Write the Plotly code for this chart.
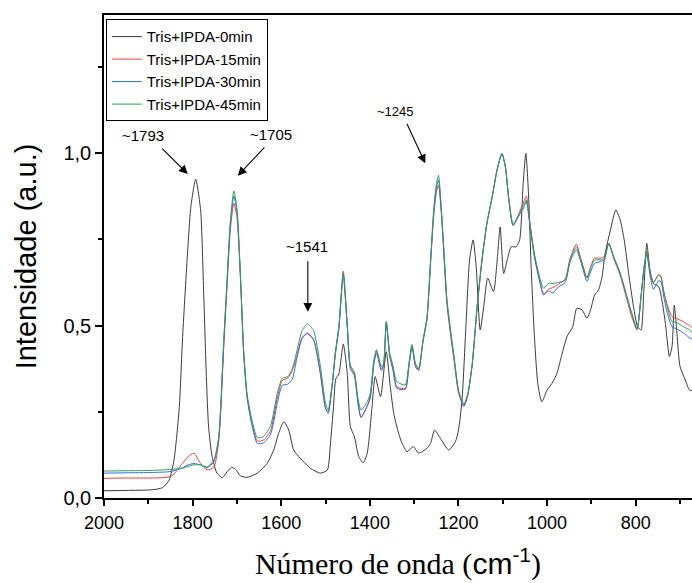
import plotly.graph_objects as go

# ---- FTIR spectra: wavenumber (cm-1) and normalised intensity ----
wn_0min = [2000, 1950, 1890, 1868, 1853, 1842, 1830, 1823, 1812, 1804, 1793, 1782, 1775,
           1769, 1764, 1756, 1745, 1733, 1722, 1712, 1703, 1692, 1677, 1654, 1632, 1617,
           1606, 1594, 1583, 1572, 1557, 1534, 1512, 1496, 1489, 1482, 1477, 1470, 1460,
           1451, 1444, 1435, 1425, 1415, 1406, 1395, 1388, 1376, 1363, 1354, 1346, 1335,
           1327, 1316, 1302, 1290, 1271, 1263, 1254, 1241, 1222, 1207, 1200, 1192, 1184,
           1175, 1167, 1160, 1151, 1143, 1134, 1121, 1112, 1106, 1098, 1090, 1081, 1070,
           1062, 1054, 1048, 1042, 1036, 1029, 1021, 1012, 1000, 989, 978, 966, 955, 942,
           933, 921, 910, 902, 893, 884, 876, 869, 857, 845, 835, 826, 816, 805, 796, 788,
           782, 775, 767, 760, 748, 741, 733, 724, 718, 713, 707, 700, 688, 679, 672]
int_0min = [0.021, 0.022, 0.024, 0.030, 0.052, 0.110, 0.265, 0.458, 0.700, 0.844, 0.924,
            0.835, 0.593, 0.352, 0.207, 0.120, 0.072, 0.059, 0.076, 0.089, 0.083, 0.064,
            0.060, 0.072, 0.100, 0.139, 0.187, 0.221, 0.197, 0.139, 0.115, 0.086, 0.072,
            0.081, 0.158, 0.265, 0.345, 0.360, 0.446, 0.361, 0.207, 0.178, 0.120, 0.102,
            0.130, 0.265, 0.352, 0.294, 0.424, 0.323, 0.245, 0.187, 0.158, 0.134, 0.149,
            0.130, 0.144, 0.158, 0.197, 0.173, 0.139, 0.163, 0.197, 0.284, 0.477, 0.690,
            0.748, 0.670, 0.487, 0.555, 0.637, 0.598, 0.700, 0.786, 0.651, 0.690, 0.728,
            0.728, 0.748, 0.912, 0.999, 0.883, 0.670, 0.477, 0.332, 0.279, 0.313, 0.332,
            0.361, 0.419, 0.468, 0.497, 0.550, 0.545, 0.521, 0.545, 0.588, 0.603, 0.641,
            0.709, 0.777, 0.835, 0.806, 0.748, 0.651, 0.555, 0.497, 0.487, 0.593, 0.738,
            0.651, 0.622, 0.612, 0.574, 0.506, 0.410, 0.440, 0.559, 0.477, 0.381, 0.342,
            0.313, 0.310]

wn_ipda = [2000, 1950, 1890, 1848, 1823, 1810, 1797, 1782, 1767, 1752, 1741, 1730, 1722,
           1715, 1707, 1700, 1692, 1685, 1677, 1666, 1654, 1640, 1624, 1609, 1598, 1585,
           1575, 1564, 1553, 1541, 1527, 1512, 1500, 1494, 1485, 1478, 1470, 1460, 1451,
           1444, 1435, 1427, 1420, 1406, 1399, 1391, 1385, 1374, 1369, 1363, 1355, 1348,
           1339, 1320, 1312, 1305, 1297, 1290, 1280, 1271, 1263, 1256, 1250, 1245, 1239,
           1233, 1226, 1217, 1209, 1200, 1188, 1179, 1169, 1158, 1147, 1136, 1124, 1113,
           1102, 1094, 1087, 1077, 1068, 1057, 1053, 1047, 1038, 1029, 1019, 1008, 997, 987,
           974, 959, 948, 934, 924, 910, 902, 893, 880, 871, 861, 850, 835, 820, 809, 797,
           788, 781, 775, 767, 760, 748, 743, 737, 729, 718, 707, 692, 679, 672]
int_15min = [0.057, 0.058, 0.058, 0.063, 0.100, 0.120, 0.130, 0.100, 0.081, 0.090, 0.165,
             0.430, 0.620, 0.775, 0.854, 0.815, 0.635, 0.425, 0.295, 0.215, 0.165, 0.168,
             0.195, 0.290, 0.340, 0.348, 0.370, 0.415, 0.465, 0.476, 0.458, 0.362, 0.260,
             0.250, 0.330, 0.420, 0.495, 0.658, 0.500, 0.380, 0.360, 0.280, 0.233, 0.268,
             0.295, 0.390, 0.425, 0.372, 0.385, 0.510, 0.410, 0.375, 0.322, 0.318, 0.383,
             0.440, 0.385, 0.372, 0.455, 0.520, 0.680, 0.815, 0.885, 0.907, 0.830, 0.705,
             0.560, 0.465, 0.390, 0.305, 0.265, 0.298, 0.385, 0.550, 0.688, 0.794, 0.872,
             0.950, 0.998, 0.958, 0.872, 0.790, 0.812, 0.845, 0.858, 0.875, 0.790, 0.708,
             0.645, 0.588, 0.605, 0.610, 0.620, 0.635, 0.695, 0.735, 0.695, 0.640, 0.670,
             0.695, 0.695, 0.700, 0.738, 0.695, 0.645, 0.575, 0.525, 0.487, 0.584, 0.670,
             0.714, 0.655, 0.625, 0.648, 0.642, 0.600, 0.560, 0.526, 0.520, 0.511, 0.500,
             0.494]
int_30min = [0.072, 0.073, 0.074, 0.077, 0.088, 0.096, 0.100, 0.096, 0.088, 0.105, 0.175,
             0.445, 0.635, 0.790, 0.875, 0.830, 0.640, 0.425, 0.290, 0.210, 0.158, 0.160,
             0.185, 0.274, 0.326, 0.330, 0.345, 0.410, 0.462, 0.478, 0.460, 0.365, 0.260,
             0.245, 0.325, 0.415, 0.490, 0.645, 0.495, 0.375, 0.355, 0.275, 0.235, 0.265,
             0.290, 0.390, 0.420, 0.370, 0.385, 0.505, 0.410, 0.372, 0.318, 0.315, 0.380,
             0.438, 0.380, 0.370, 0.455, 0.520, 0.685, 0.825, 0.898, 0.922, 0.838, 0.715,
             0.570, 0.472, 0.395, 0.310, 0.268, 0.300, 0.388, 0.553, 0.690, 0.795, 0.872,
             0.950, 0.998, 0.958, 0.872, 0.790, 0.808, 0.833, 0.840, 0.860, 0.782, 0.700,
             0.640, 0.592, 0.600, 0.595, 0.612, 0.625, 0.685, 0.719, 0.685, 0.628, 0.655,
             0.680, 0.685, 0.690, 0.738, 0.700, 0.651, 0.584, 0.535, 0.490, 0.584, 0.670,
             0.705, 0.640, 0.605, 0.630, 0.627, 0.585, 0.538, 0.496, 0.490, 0.478, 0.465,
             0.460]
int_45min = [0.078, 0.079, 0.080, 0.083, 0.086, 0.092, 0.096, 0.096, 0.090, 0.110, 0.178,
             0.448, 0.640, 0.800, 0.890, 0.840, 0.645, 0.430, 0.300, 0.226, 0.175, 0.178,
             0.210, 0.303, 0.346, 0.352, 0.375, 0.430, 0.485, 0.505, 0.485, 0.385, 0.275,
             0.255, 0.330, 0.420, 0.497, 0.652, 0.500, 0.385, 0.365, 0.290, 0.255, 0.279,
             0.304, 0.400, 0.430, 0.380, 0.390, 0.512, 0.420, 0.385, 0.337, 0.328, 0.390,
             0.445, 0.390, 0.376, 0.458, 0.526, 0.690, 0.835, 0.910, 0.935, 0.845, 0.720,
             0.575, 0.478, 0.400, 0.313, 0.272, 0.303, 0.390, 0.555, 0.690, 0.796, 0.873,
             0.951, 0.999, 0.960, 0.873, 0.793, 0.810, 0.838, 0.848, 0.864, 0.786, 0.709,
             0.651, 0.608, 0.622, 0.622, 0.625, 0.632, 0.690, 0.727, 0.690, 0.637, 0.665,
             0.690, 0.690, 0.695, 0.738, 0.700, 0.651, 0.584, 0.535, 0.490, 0.584, 0.670,
             0.714, 0.651, 0.625, 0.646, 0.640, 0.600, 0.555, 0.511, 0.508, 0.496, 0.488,
             0.478]

series_names = ["Tris+IPDA-0min", "Tris+IPDA-15min", "Tris+IPDA-30min", "Tris+IPDA-45min"]
series_colors = ["#3a3a3a", "#f03c3c", "#2a6ee6", "#2e9e5a"]

y_tick_vals = [0.0, 0.5, 1.0]
y_tick_text = ["0,0", "0,5", "1,0"]
x_tick_vals = [2000, 1800, 1600, 1400, 1200, 1000, 800]

# band labels: (text, x, y, font size) and arrows: (tip x, tip y, dx, dy)
band_labels = [("~1793", 1912, 1.052, 15), ("~1705", 1624, 1.055, 15),
               ("~1541", 1542, 0.728, 15), ("~1245", 1342, 1.120, 13)]
band_arrows = [(1811, 0.939, -27, -27), (1698, 0.934, 28, -30),
               (1540, 0.540, 0, -52), (1275, 0.970, -19, -41)]

SANS = "Liberation Sans, Arial, sans-serif"
SERIF = "Liberation Serif, Times New Roman, serif"

fig = go.Figure()
spectra = [(wn_0min, int_0min), (wn_ipda, int_15min), (wn_ipda, int_30min), (wn_ipda, int_45min)]
for (xs, ys), name, color in zip(spectra, series_names, series_colors):
    fig.add_trace(go.Scatter(x=xs, y=ys, mode="lines", name=name,
                             line=dict(color=color, width=1, shape="spline", smoothing=0.6)))

for text, x, y, size in band_labels:
    fig.add_annotation(x=x, y=y, xref="x", yref="y", text=text, showarrow=False,
                       font=dict(family=SANS, size=size, color="black"))
for x, y, dx, dy in band_arrows:
    fig.add_annotation(x=x, y=y, xref="x", yref="y", text="", showarrow=True,
                       ax=dx, ay=dy, arrowhead=2, arrowsize=1.6, arrowwidth=1.1,
                       arrowcolor="black")

fig.update_layout(
    width=692, height=583,
    margin=dict(l=104, r=0, t=15, b=85),
    paper_bgcolor="white", plot_bgcolor="white",
    font=dict(family=SANS, color="black"),
    showlegend=True,
    legend=dict(x=0.003, y=0.991, xanchor="left", yanchor="top",
                bgcolor="white", bordercolor="black", borderwidth=1,
                font=dict(family=SANS, size=15, color="black"),
                tracegroupgap=0, itemwidth=30),
    xaxis=dict(range=[2000, 673], showgrid=False, zeroline=False,
               showline=True, linecolor="black", linewidth=1.5, mirror=True,
               ticks="outside", ticklen=6, tickwidth=1.5, tickcolor="black",
               tickvals=x_tick_vals, tickfont=dict(family=SANS, size=18),
               ticklabelstandoff=2,
               minor=dict(ticks="outside", ticklen=4, tickwidth=1.5, tickcolor="black", dtick=100),
               title=dict(text="Número de onda (<span style='font-family:Liberation Sans, Arial'>cm<sup>-1</sup></span>)",
                          font=dict(family=SERIF, size=30),
                          standoff=21)),
    yaxis=dict(range=[0, 1.4], showgrid=False, zeroline=False,
               showline=True, linecolor="black", linewidth=1.5,
               ticks="outside", ticklen=7, tickwidth=1.5, tickcolor="black",
               tickvals=y_tick_vals, ticktext=y_tick_text, tickfont=dict(family=SANS, size=20),
               minor=dict(ticks="outside", ticklen=4, tickwidth=1.5, tickcolor="black",
                          tickvals=[0.25, 0.75, 1.25]),
               title=dict(text="Intensidade (a.u.)", font=dict(family=SANS, size=29), standoff=18)),
)

fig.write_html("out.html")
